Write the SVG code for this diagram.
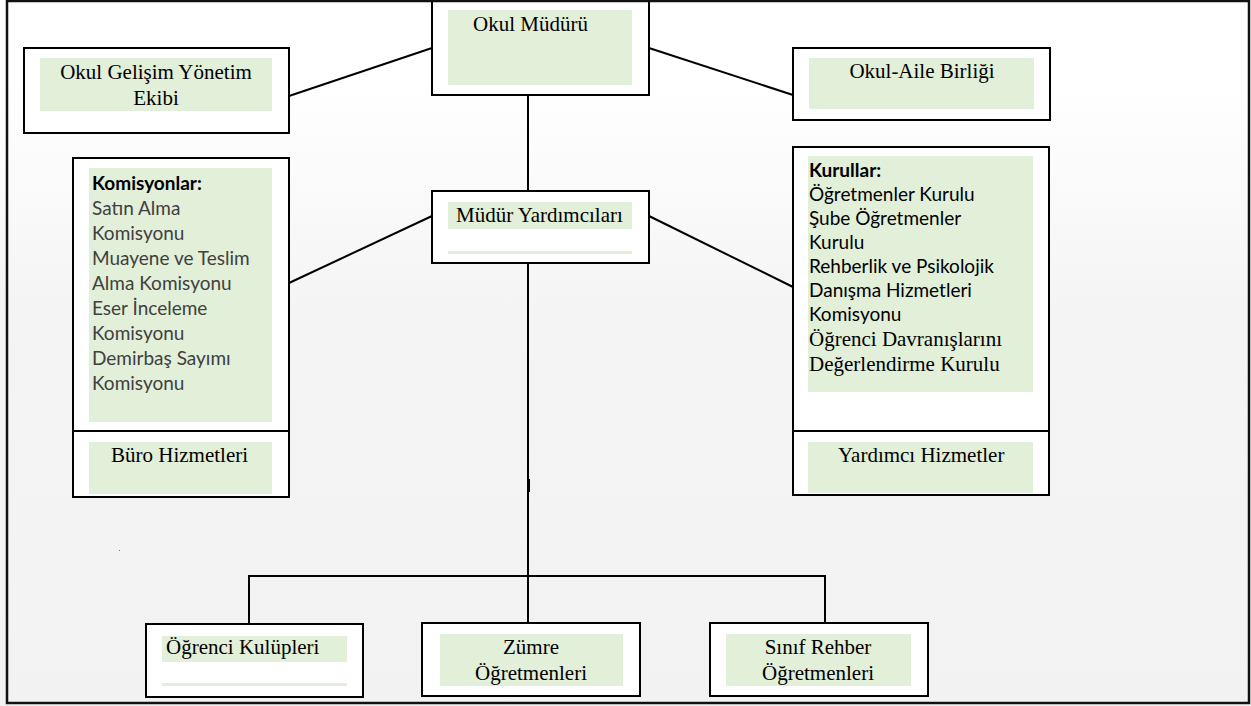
<svg xmlns="http://www.w3.org/2000/svg" width="1251" height="706" viewBox="0 0 1251 706">
<defs>
<linearGradient id="bg" x1="0" y1="0" x2="0" y2="1">
<stop offset="0" stop-color="#ffffff"/>
<stop offset="0.12" stop-color="#ffffff"/>
<stop offset="0.45" stop-color="#f4f4f4"/>
<stop offset="1" stop-color="#f2f2f2"/>
</linearGradient>
<style>
.box{fill:#ffffff;stroke:#000;stroke-width:2}
.g{fill:#e2efd9}
.t{font-family:"Liberation Serif","Times New Roman",serif;font-size:21px;fill:#000}
.c{font-family:Lato,"Liberation Sans",sans-serif;font-size:19px;fill:#000}
.cg{fill:#404040}
.b{font-weight:bold;fill:#000}
.ln{stroke:#000;stroke-width:2;fill:none}
</style>
</defs>
<rect x="0" y="0" width="1251" height="706" fill="url(#bg)"/>

<g id="connectors">
<line class="ln" x1="289" y1="96" x2="432" y2="48"/>
<line class="ln" x1="649" y1="48" x2="793" y2="95"/>
<line class="ln" x1="528" y1="95" x2="528" y2="191"/>
<line class="ln" x1="289" y1="283" x2="432" y2="216"/>
<line class="ln" x1="649" y1="216" x2="793" y2="287"/>
<line class="ln" x1="528" y1="263" x2="528" y2="577"/>
<rect x="527" y="479" width="3" height="13" fill="#000"/>
<line class="ln" x1="248" y1="576" x2="826" y2="576"/>
<line class="ln" x1="249" y1="576" x2="249" y2="624"/>
<line class="ln" x1="528" y1="576" x2="528" y2="623"/>
<line class="ln" x1="825" y1="576" x2="825" y2="623"/>
</g>

<g id="okul-muduru">
<rect class="box" x="432" y="-2" width="217" height="97"/>
<rect class="g" x="448" y="10" width="184" height="75"/>
<text class="t" x="473" y="31">Okul Müdürü</text>
</g>

<g id="okul-gelisim">
<rect class="box" x="24" y="48" width="265" height="85"/>
<rect class="g" x="40" y="58" width="232" height="53"/>
<text class="t" x="156" y="79" text-anchor="middle">Okul Gelişim Yönetim</text>
<text class="t" x="156" y="105" text-anchor="middle">Ekibi</text>
</g>

<g id="okul-aile">
<rect class="box" x="793" y="48" width="257" height="72"/>
<rect class="g" x="809" y="58" width="225" height="51"/>
<text class="t" x="922" y="78" text-anchor="middle">Okul-Aile Birliği</text>
</g>

<g id="mudur-yardimcilari">
<rect class="box" x="432" y="191" width="217" height="72"/>
<rect class="g" x="448" y="202" width="184" height="27"/>
<rect class="g" x="448" y="251" width="184" height="3"/>
<text class="t" x="456" y="222">Müdür Yardımcıları</text>
</g>

<g id="komisyonlar">
<rect class="box" x="73" y="158" width="216" height="339"/>
<line class="ln" x1="73" y1="431" x2="289" y2="431"/>
<rect class="g" x="89" y="168" width="183" height="254"/>
<text class="c b" x="92" y="190">Komisyonlar:</text>
<text class="c cg" x="92" y="215">Satın Alma</text>
<text class="c cg" x="92" y="240">Komisyonu</text>
<text class="c cg" x="92" y="265">Muayene ve Teslim</text>
<text class="c cg" x="92" y="290">Alma Komisyonu</text>
<text class="c cg" x="92" y="315">Eser İnceleme</text>
<text class="c cg" x="92" y="340">Komisyonu</text>
<text class="c cg" x="92" y="365">Demirbaş Sayımı</text>
<text class="c cg" x="92" y="390">Komisyonu</text>
</g>

<g id="buro-hizmetleri">
<rect class="g" x="89" y="442" width="183" height="52"/>
<text class="t" x="111" y="462">Büro Hizmetleri</text>
</g>

<g id="kurullar">
<rect class="box" x="793" y="147" width="256" height="348"/>
<line class="ln" x1="793" y1="431" x2="1049" y2="431"/>
<rect class="g" x="808" y="156" width="225" height="236"/>
<text class="c b" x="809" y="177">Kurullar:</text>
<text class="c" x="809" y="201">Öğretmenler Kurulu</text>
<text class="c" x="809" y="225">Şube Öğretmenler</text>
<text class="c" x="809" y="249">Kurulu</text>
<text class="c" x="809" y="273">Rehberlik ve Psikolojik</text>
<text class="c" x="809" y="297">Danışma Hizmetleri</text>
<text class="c" x="809" y="321">Komisyonu</text>
<text class="t" x="809" y="346">Öğrenci Davranışlarını</text>
<text class="t" x="809" y="371">Değerlendirme Kurulu</text>
</g>

<g id="yardimci-hizmetler">
<rect class="g" x="808" y="442" width="225" height="51"/>
<text class="t" x="838" y="462">Yardımcı Hizmetler</text>
</g>

<g id="ogrenci-kulupleri">
<rect class="box" x="146" y="624" width="217" height="73"/>
<rect class="g" x="162" y="636" width="185" height="26"/>
<rect class="g" x="162" y="683" width="185" height="3"/>
<text class="t" x="166" y="654">Öğrenci Kulüpleri</text>
</g>

<g id="zumre">
<rect class="box" x="422" y="623" width="218" height="73"/>
<rect class="g" x="440" y="634" width="183" height="52"/>
<text class="t" x="531" y="654" text-anchor="middle">Zümre</text>
<text class="t" x="531" y="680" text-anchor="middle">Öğretmenleri</text>
</g>

<g id="sinif-rehber">
<rect class="box" x="710" y="623" width="218" height="73"/>
<rect class="g" x="726" y="634" width="185" height="52"/>
<text class="t" x="818" y="654" text-anchor="middle">Sınıf Rehber</text>
<text class="t" x="818" y="680" text-anchor="middle">Öğretmenleri</text>
</g>

<rect x="119" y="550" width="1" height="1" fill="#777"/>
<rect x="7" y="1" width="1242" height="702" fill="none" stroke="#111" stroke-width="2.5"/>
</svg>
